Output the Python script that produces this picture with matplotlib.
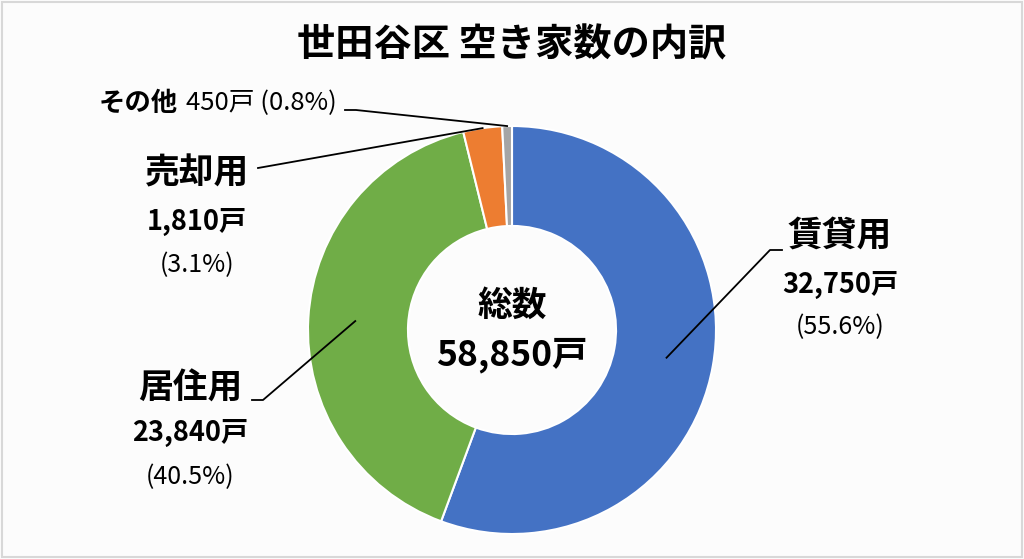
import numpy as np
import matplotlib
matplotlib.use("Agg")
import matplotlib.pyplot as plt
from matplotlib.patches import Rectangle

plt.rcParams['font.family'] = ['Noto Sans CJK JP', 'DejaVu Sans']

labels = ["賃貸用", "居住用", "売却用", "その他"]
counts = [32750, 23840, 1810, 450]
count_text = ["32,750戸", "23,840戸", "1,810戸", "450戸"]
pct_text = ["(55.6%)", "(40.5%)", "(3.1%)", "(0.8%)"]
colors = ["#4472C4", "#70AD47", "#ED7D31", "#A5A5A5"]
total_text = "58,850戸"

W, H = 1024, 559
fig = plt.figure(figsize=(W / 100, H / 100), dpi=100)
fig.patch.set_facecolor("#fcfcfc")
ax = fig.add_axes([0, 0, 1, 1])

cx, cy, R = 512, H - 330, 204
wedges, _ = ax.pie(counts, colors=colors, startangle=90, counterclock=False,
                   center=(cx, cy), radius=R, frame=True,
                   wedgeprops=dict(width=R * 0.49, edgecolor="white", linewidth=1.5))
ax.set_xlim(0, W)
ax.set_ylim(0, H)
ax.set_aspect("equal")
ax.axis("off")

def y(v):
    return H - v

def mid_pt(w, r):
    a = np.deg2rad((w.theta1 + w.theta2) / 2)
    return cx + r * np.cos(a), cy + r * np.sin(a)

lk = dict(color="black", lw=1.3)
fs_name, fs_cnt, fs_pct = 25, 19.5, 18

# 賃貸用
x0, y0 = mid_pt(wedges[0], 157)
ax.plot([x0, 770, 782], [y0, y(250), y(250)], **lk)
ax.text(840, y(235), labels[0], fontsize=fs_name, fontweight="bold", ha="center", va="center")
ax.text(840, y(285), count_text[0], fontsize=fs_cnt, fontweight="bold", ha="center", va="center")
ax.text(840, y(327), pct_text[0], fontsize=fs_pct, ha="center", va="center")

# 居住用
x0, y0 = mid_pt(wedges[1], 157)
ax.plot([x0, 263, 252], [y0, y(400), y(400)], **lk)
ax.text(190, y(388), labels[1], fontsize=fs_name, fontweight="bold", ha="center", va="center")
ax.text(190, y(433), count_text[1], fontsize=fs_cnt, fontweight="bold", ha="center", va="center")
ax.text(190, y(477), pct_text[1], fontsize=fs_pct, ha="center", va="center")

# 売却用
x0, y0 = mid_pt(wedges[2], R)
ax.plot([x0, 258], [y0, y(168)], **lk)
ax.text(197, y(173), labels[2], fontsize=fs_name, fontweight="bold", ha="center", va="center")
ax.text(197, y(222), count_text[2], fontsize=fs_cnt, fontweight="bold", ha="center", va="center")
ax.text(197, y(265), pct_text[2], fontsize=fs_pct, ha="center", va="center")

# その他
x0, y0 = mid_pt(wedges[3], R)
ax.plot([x0, 356, 345], [y0, y(110), y(110)], **lk)
ax.text(178, y(103), labels[3], fontsize=19, fontweight="bold", ha="right", va="center")
ax.text(186, y(103), count_text[3] + " " + pct_text[3], fontsize=18.5, ha="left", va="center")

# 中央
ax.text(cx, y(305), "総数", fontsize=25, fontweight="bold", ha="center", va="center")
ax.text(cx, y(355), total_text, fontsize=25.5, fontweight="bold", ha="center", va="center")

fig.text(0.5, y(45) / H, "世田谷区 空き家数の内訳", fontsize=27.5, fontweight="bold",
         ha="center", va="center")

fig.patches.append(Rectangle((0.002, 0.003), 0.996, 0.994, transform=fig.transFigure,
                             fill=False, edgecolor="#d8d8d8", lw=1.5))

fig.savefig("out.png", dpi=100, facecolor=fig.get_facecolor())
